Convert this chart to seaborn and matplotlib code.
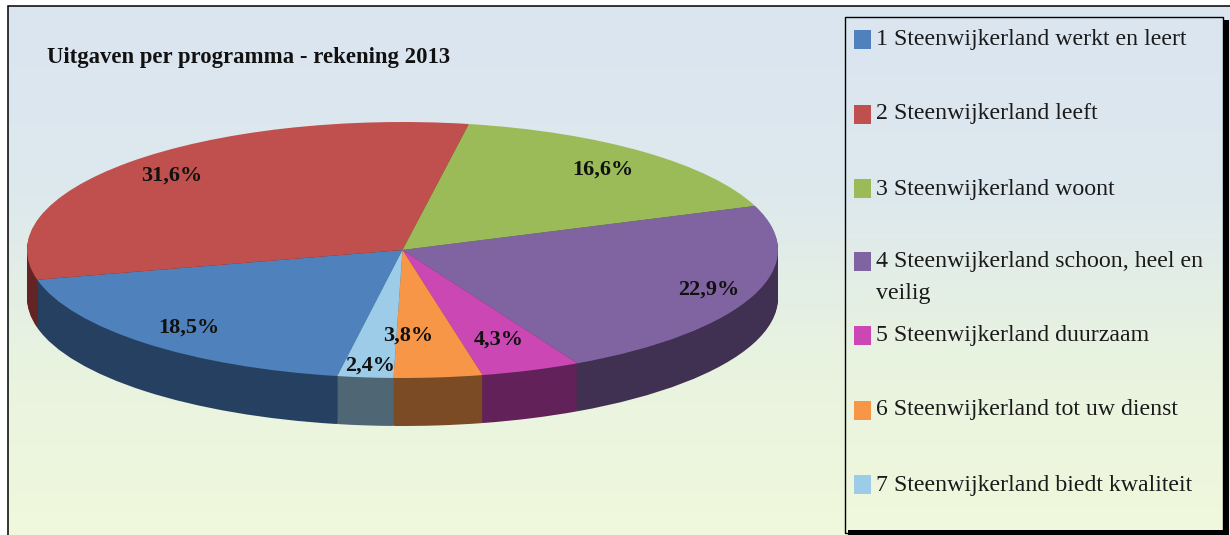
import numpy as np
import matplotlib
matplotlib.use("Agg")
import matplotlib.pyplot as plt
from matplotlib.colors import LinearSegmentedColormap
from matplotlib.patches import Rectangle
import seaborn as sns

programmes = ["1 Steenwijkerland werkt en leert", "2 Steenwijkerland leeft",
              "3 Steenwijkerland woont", "4 Steenwijkerland schoon, heel en\nveilig",
              "5 Steenwijkerland duurzaam", "6 Steenwijkerland tot uw dienst",
              "7 Steenwijkerland biedt kwaliteit"]
shares = [18.5, 31.6, 16.6, 22.9, 4.3, 3.8, 2.4]
title = "Uitgaven per programma - rekening 2013"

top_colors = ["#4F81BD", "#C0504D", "#9BBB59", "#8064A2", "#CB48B4", "#F79646", "#9DCCE8"]
side_colors = ["#254061", "#632523", "#4F6228", "#403152", "#622259", "#7A4B24", "#4F6675"]
label_xy = [(189, 328), (172, 176), (603, 170), (709, 290), (499, 340), (408, 336), (370, 366)]
legend_y = [39, 114, 188, 261, 335, 410, 484]
text_y = [40, 114, 189, 262, 336, 410, 485]

sns.set_theme(style="white")
W, H = 1230, 535
fig = plt.figure(figsize=(W / 100, H / 100), dpi=100, facecolor="white")
serif = "Liberation Serif"
grad = LinearSegmentedColormap.from_list("g", ["#DBE5F1", "#DDE8EE", "#E8F3E0", "#F0F8DC"])
ramp = np.linspace(0, 1, 256)[:, None]

bg = fig.add_axes([0, 0, 1, 1], zorder=0)
bg.imshow(ramp, cmap=grad, extent=(8, W, H, 6), aspect="auto", zorder=0)
bg.plot([8, 8, W], [H, 6, 6], color="black", lw=1.1, zorder=1, solid_joinstyle="miter")
bg.set_xlim(0, W); bg.set_ylim(H, 0); bg.axis("off")

# pie: unit circle maps onto the ellipse in pixel terms
cx, cy, rx, ry, depth = 402.5, 250, 375.5, 128, 48
ext_bottom = 1 + depth / ry + 0.02
left, width = (cx - rx) / W, 2 * rx / W
bottom = 1 - (cy + ry * ext_bottom) / H
height = ry * (1 + ext_bottom) / H
pie_ax = fig.add_axes([left, bottom, width, height], zorder=1)
pal_top = sns.color_palette(top_colors)
pal_side = sns.color_palette(side_colors)
flat = dict(linewidth=0, edgecolor="none")
for k in range(int(depth), 0, -1):
    pie_ax.pie(shares, colors=pal_side, startangle=260, counterclock=False,
               center=(0, -k / ry), radius=1, normalize=True, frame=True, wedgeprops=flat)
wedges, _ = pie_ax.pie(shares, colors=pal_top, startangle=260, counterclock=False,
                       center=(0, 0), radius=1, normalize=True, frame=True, wedgeprops=flat)
pie_ax.set_aspect("auto")
pie_ax.set_xlim(-1, 1); pie_ax.set_ylim(-ext_bottom, 1)
pie_ax.axis("off")

ov = fig.add_axes([0, 0, 1, 1], zorder=2)
ov.patch.set_alpha(0)
ov.text(47, 58, title, fontfamily=serif, fontweight="bold", fontsize=16.35, va="center", ha="left", color="#111111")
for v, (x, y) in zip(shares, label_xy):
    ov.text(x, y, f"{v:.1f}%".replace(".", ","), fontfamily=serif, fontweight="bold", fontsize=16,
            ha="center", va="center", color="#111111")

# legend box with hard shadow
ov.add_patch(Rectangle((848, 20), 381, 520, fc="black", ec="none", zorder=1))
ov.imshow(ramp, cmap=grad, extent=(844.5, 1222.5, 530, 16.5), aspect="auto", zorder=2,
          vmin=0, vmax=1)
ov.add_patch(Rectangle((844.5, 16.5), 378, 516, fc="none", ec="black", lw=1.0, zorder=3))
for name, c, sy, ty in zip(programmes, pal_top, legend_y, text_y):
    ov.add_patch(Rectangle((854, sy - 9), 17, 18.5, fc=c, ec="none", zorder=4))
    ov.text(876, ty, name.split("\n")[0], fontfamily=serif, fontsize=17.2, va="center", ha="left",
            color="#1a1a1a", zorder=4)
    if "\n" in name:
        ov.text(876, ty + 32, name.split("\n")[1], fontfamily=serif, fontsize=17.2, va="center",
                ha="left", color="#1a1a1a", zorder=4)
ov.set_xlim(0, W); ov.set_ylim(H, 0); ov.axis("off")

fig.savefig("out.png", dpi=100)
